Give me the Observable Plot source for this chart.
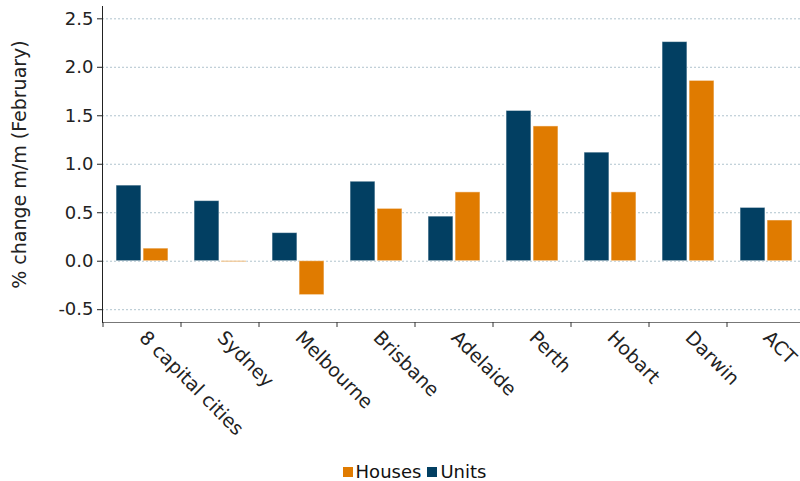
<!DOCTYPE html>
<html><head><meta charset="utf-8">
<script src="https://cdn.jsdelivr.net/npm/d3@7"></script>
<script src="https://cdn.jsdelivr.net/npm/@observablehq/plot@0.6"></script>
<style>
body{margin:0;background:#fff;font-family:"DejaVu Sans",Verdana,sans-serif;overflow:hidden;}
#legend{height:36px;box-sizing:border-box;padding-top:17px;padding-left:29px;display:flex;justify-content:center;align-items:center;font-size:18px;color:#111;line-height:20px;}
#legend .item{display:flex;align-items:center;margin:0 3px;}
#legend .sw{width:10px;height:10px;margin-right:3px;display:inline-block;}
</style></head><body><div id="chart"></div><div id="legend"></div>
<script>
const cities = ["8 capital cities","Sydney","Melbourne","Brisbane","Adelaide","Perth","Hobart","Darwin","ACT"];
const units  = [0.78, 0.62, 0.29, 0.82, 0.46, 1.55, 1.12, 2.26, 0.55];
const houses = [0.13, -0.01, -0.35, 0.54, 0.71, 1.39, 0.71, 1.86, 0.42];
const seriesNames = ["Houses","Units"];
const seriesColors = ["#e07b00","#023f62"];
const yTicks = [-0.5, 0, 0.5, 1, 1.5, 2, 2.5];
const yTitle = "% change m/m (February)";

const W = 800, H = 445, mL = 102, mR = -5, mT = 6, mB = 123;
const bw = (W - mL - mR) / cities.length;
const barW = bw * 0.32, gap = bw * 0.026, pad = (bw - 2 * barW - gap) / 2;

const unitRows = cities.map((c, i) => ({city: c, series: "Units", value: units[i]}));
const houseRows = cities.map((c, i) => ({city: c, series: "Houses", value: houses[i]}));

const boundaryTicks = (index, scales, values, dims) => {
  const g = d3.create("svg:g").attr("stroke", "#333").attr("stroke-width", 1);
  const y0 = dims.height - dims.marginBottom;
  for (const c of cities) {
    const x = scales.x(c);
    g.append("line").attr("x1", x).attr("x2", x).attr("y1", y0).attr("y2", y0 + 5);
  }
  return g.node();
};

const chart = Plot.plot({
  width: W, height: H, marginLeft: mL, marginRight: mR, marginTop: mT, marginBottom: mB,
  style: {fontFamily: "DejaVu Sans, Verdana, sans-serif", fontSize: "18px", color: "#222", background: "#fff", overflow: "hidden"},
  x: {domain: cities, padding: 0},
  y: {domain: [-0.632, 2.627]},
  color: {domain: seriesNames, range: seriesColors},
  marks: [
    Plot.gridY(yTicks, {stroke: "#b0c4ce", strokeOpacity: 1, strokeDasharray: "2,2"}),
    Plot.barY(unitRows, {x: "city", y: "value", fill: "series", insetLeft: pad, insetRight: bw - pad - barW, stroke: "#fff", strokeOpacity: 0.5}),
    Plot.barY(houseRows, {x: "city", y: "value", fill: "series", insetLeft: pad + barW + gap, insetRight: pad, stroke: "#fff", strokeOpacity: 0.5}),
    Plot.axisY(yTicks, {tickFormat: d => d.toFixed(1), tickSize: 5, tickPadding: 4, label: null, fontSize: 18}),
    Plot.axisY({label: yTitle, labelAnchor: "center", labelArrow: "none", labelOffset: 90, fontSize: 19, tickSize: 0, tickFormat: () => ""}),
    Plot.axisX({tickSize: 0, tickRotate: 45, textAnchor: "start", tickPadding: 12, label: null, fontSize: 19}),
    Plot.frame({anchor: "bottom", stroke: "#777"}),
    Plot.frame({anchor: "left", stroke: "#222"}),
    boundaryTicks
  ]
});
document.getElementById("chart").appendChild(chart);

const legend = document.getElementById("legend");
seriesNames.forEach((s, i) => {
  const it = document.createElement("span"); it.className = "item";
  const sw = document.createElement("span"); sw.className = "sw"; sw.style.background = seriesColors[i];
  it.appendChild(sw); it.appendChild(document.createTextNode(s));
  legend.appendChild(it);
});
</script></body></html>
